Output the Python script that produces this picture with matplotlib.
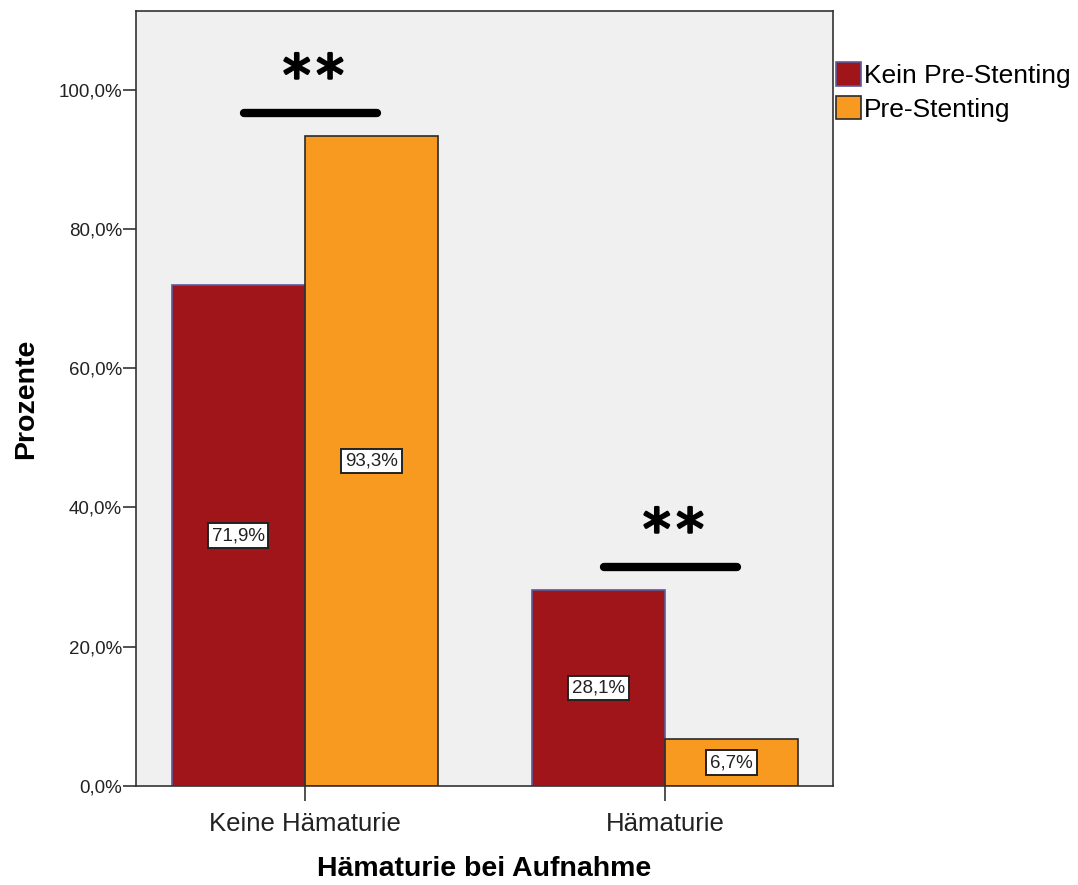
import numpy as np
import matplotlib
matplotlib.use('Agg')
import matplotlib.pyplot as plt
import matplotlib.patheffects as pe
from matplotlib.patches import Patch

plt.rcParams['font.family'] = ['Liberation Sans', 'DejaVu Sans']

categories = ['Keine Hämaturie', 'Hämaturie']
groups = ['Kein Pre-Stenting', 'Pre-Stenting']
kein_pre = [71.9, 28.1]
pre = [93.3, 6.7]
sig_level = [96.7, 31.5]
sig_text = ['**', '**']

colors = ['#a01519', '#f79a1f']
edges = ['#5b5b9e', '#2a2a2a']

fig = plt.figure(figsize=(10.78, 8.85), dpi=100)
ax = fig.add_axes([136 / 1078, 1 - 786 / 885, 697 / 1078, 775 / 885])
ax.set_facecolor('#f0f0f0')

x = np.arange(len(categories))
w = 0.37
for k, vals in enumerate([kein_pre, pre]):
    pos = x + (k - 0.5) * w
    ax.bar(pos, vals, width=w, color=colors[k], edgecolor=edges[k],
           linewidth=1.2, zorder=2)
    for p, v in zip(pos, vals):
        ax.text(p, v / 2, f'{v:.1f}%'.replace('.', ','), ha='center',
                va='center', fontsize=13.5, zorder=4, color='#222222',
                bbox=dict(boxstyle='square,pad=0.2', fc='white',
                          ec='#222222', lw=1.4))

# significance bars
for xi, lvl, s in zip(x, sig_level, sig_text):
    ax.plot([xi - 0.17, xi + 0.2], [lvl, lvl], color='black', lw=6,
            solid_capstyle='round', zorder=3)
    ax.text(xi + 0.024, lvl + 0.9, '\u200a'.join(s), ha='center', va='bottom',
            fontsize=40, family='DejaVu Sans', zorder=3,
            path_effects=[pe.withStroke(linewidth=1.8, foreground='black')])

ax.set_xlim(-0.469, 1.467)
ax.set_ylim(0, 111.3)
ticks = np.arange(0, 101, 20)
ax.set_yticks(ticks)
ax.set_yticklabels([f'{t:.1f}%'.replace('.', ',') for t in ticks],
                   fontsize=13.5, color='#222222')
ax.set_xticks(x)
ax.set_xticklabels(categories, fontsize=18.5, color='#222222')
ax.tick_params(axis='y', length=9.5, width=1.2, color='#333333', pad=0.5)
ax.tick_params(axis='x', length=11, width=1.2, color='#333333', pad=8)
for sp in ax.spines.values():
    sp.set_color('#333333')
    sp.set_linewidth(1.2)

ax.set_ylabel('Prozente', fontsize=20.5, fontweight='bold', labelpad=14)
ax.set_xlabel('Hämaturie bei Aufnahme', fontsize=20.5, fontweight='bold',
              labelpad=14)

handles = [Patch(facecolor=colors[k], edgecolor=edges[k], lw=1.2,
                 label=groups[k]) for k in range(2)]
fig.legend(handles=handles, loc='upper left',
           bbox_to_anchor=(836 / 1078, 1 - 62 / 885),
           frameon=False, fontsize=19, handlelength=0.95, handleheight=1.0,
           handletextpad=0.12, labelspacing=0.3, borderaxespad=0,
           borderpad=0)

fig.savefig('out.png', dpi=100)
